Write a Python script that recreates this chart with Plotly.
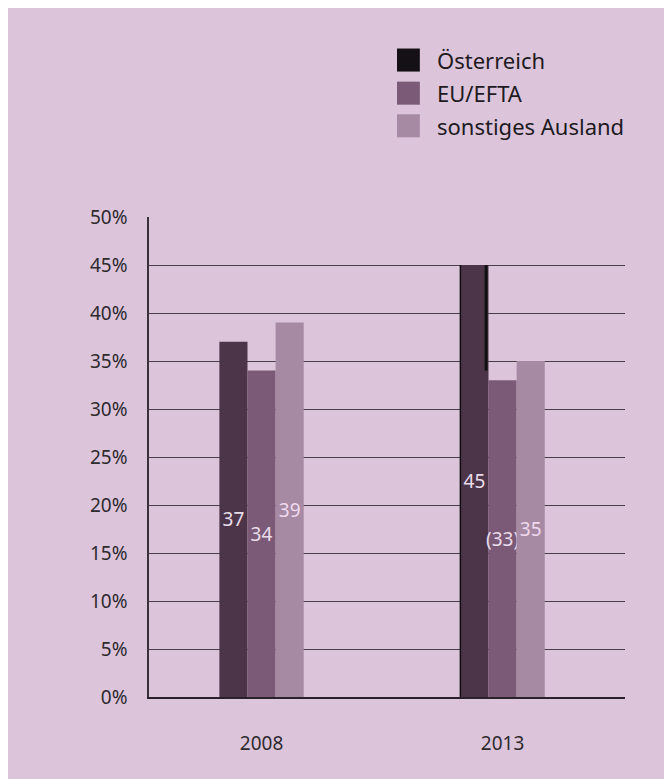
import plotly.graph_objects as go

years = ["2008", "2013"]
series = ["Österreich", "EU/EFTA", "sonstiges Ausland"]
values = {
    "Österreich": [37, 45],
    "EU/EFTA": [34, 33],
    "sonstiges Ausland": [39, 35],
}
labels = {
    "Österreich": ["37", "45"],
    "EU/EFTA": ["34", "(33)"],
    "sonstiges Ausland": ["39", "35"],
}
bar_colors = ["#4c3549", "#7a5a77", "#a68aa3"]
legend_colors = ["#151015", "#7a5a77", "#a68aa3"]
label_colors = ["#eadcea", "#eadcea", "#f0d8ee"]
y_ticks = [0, 5, 10, 15, 20, 25, 30, 35, 40, 45, 50]

BG = "#dcc5db"
FONT = "Noto Sans"
BARGAP = 0.65

fig = go.Figure()
for s, c, lc in zip(series, bar_colors, label_colors):
    fig.add_trace(go.Bar(
        x=years, y=values[s], name=s, marker=dict(color=c, line=dict(width=0)),
        text=labels[s], textposition="inside", insidetextanchor="middle",
        textfont=dict(family=FONT, size=19, color=lc),
        textangle=0, showlegend=False,
    ))

# manual legend (large squares) drawn from series names / colours
leg_y = [1.327, 1.258, 1.190]
shapes = []
annotations = []
for s, c, yy in zip(series, legend_colors, leg_y):
    shapes.append(dict(type="rect", xref="paper", yref="paper",
                       x0=0.521, x1=0.569, y0=yy - 0.024, y1=yy + 0.024,
                       fillcolor=c, line=dict(width=0)))
    annotations.append(dict(text=s, xref="paper", yref="paper", x=0.601, y=yy,
                            xanchor="left", yanchor="middle", showarrow=False,
                            font=dict(family=FONT, size=22, color="#1e1a1e")))

# dark edge artefact on the 2013 Österreich bar
n = len(series)
w = (1 - BARGAP) / n
x_right = 1 - (1 - BARGAP) / 2 + w
shapes.append(dict(type="line", xref="x", yref="y", x0=x_right - 0.01, x1=x_right - 0.01,
                   y0=values["EU/EFTA"][1] + 1, y1=values["Österreich"][1],
                   line=dict(color="#101010", width=3)))
x_left = 1 - (1 - BARGAP) / 2
shapes.append(dict(type="line", xref="x", yref="y", x0=x_left, x1=x_left,
                   y0=0, y1=values["Österreich"][1],
                   line=dict(color="#101010", width=1.5)))

fig.update_layout(
    width=672, height=779,
    paper_bgcolor=BG, plot_bgcolor=BG,
    margin=dict(l=141, r=55, t=209, b=90),
    barmode="group", bargap=BARGAP, bargroupgap=0,
    font=dict(family=FONT, size=19, color="#2e2a2e"),
    uniformtext=dict(minsize=17, mode="show"),
    shapes=shapes, annotations=annotations,
    showlegend=False,
)
fig.update_yaxes(
    range=[0, 50], tickvals=y_ticks, ticktext=[f"{v}%" for v in y_ticks],
    showgrid=True, gridcolor="#4a4048", gridwidth=1,
    showline=True, linecolor="#3a323a", linewidth=1.5,
    ticks="", ticklabelstandoff=16, zeroline=False,
)
fig.update_xaxes(
    range=[-0.467, 1.508], showgrid=False,
    showline=True, linecolor="#2a222a", linewidth=1.5,
    ticks="", ticklabelstandoff=28,
)

fig.write_html("out.html")
